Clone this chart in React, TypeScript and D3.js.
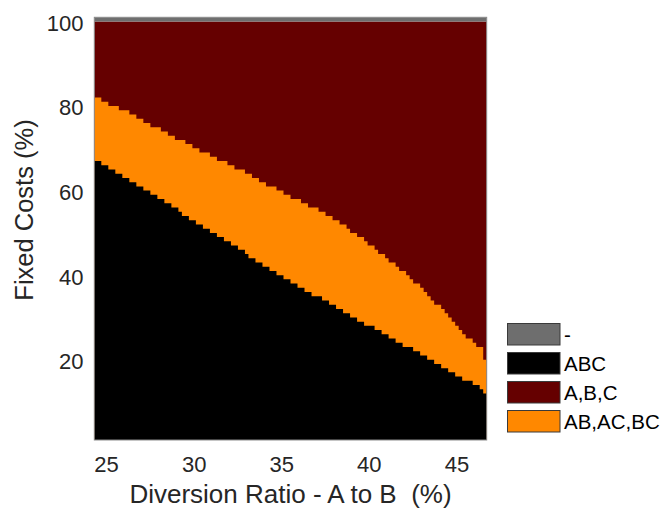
import React from "react";
import * as d3 from "d3";

// Column grid of the diversion ratio (%): left edges every 0.2 from 24.3 to 46.7
const xStart = 24.3;
const xEnd = 46.7;
const xStep = 0.2;

// Highest fixed-cost row (%) that is "ABC" in each column
const abcTop = [
  66, 66, 65, 65, 64, 64, 63, 63, 62, 62,
  61, 61, 60, 60, 59, 59, 58, 58, 57, 57,
  56, 56, 55, 55, 54, 53, 53, 52, 52, 51,
  51, 50, 50, 49, 49, 48, 48, 47, 47, 46,
  46, 45, 45, 44, 43, 43, 42, 42, 41, 41,
  40, 40, 39, 39, 38, 38, 37, 37, 36, 36,
  35, 35, 34, 34, 34, 33, 33, 32, 32, 31,
  31, 30, 30, 29, 29, 28, 28, 27, 27, 27,
  26, 26, 25, 25, 24, 24, 23, 23, 22, 22,
  22, 21, 21, 20, 20, 19, 19, 18, 18, 17,
  17, 16, 16, 15, 15, 14, 14, 14, 13, 13,
  12, 11,
];

// Highest fixed-cost row (%) that is "AB,AC,BC" in each column
const pairTop = [
  81, 81, 80, 80, 79, 79, 79, 78, 78, 78,
  77, 77, 76, 76, 75, 75, 74, 74, 74, 73,
  73, 72, 72, 71, 71, 71, 70, 70, 69, 69,
  68, 68, 68, 67, 67, 66, 66, 66, 65, 65,
  64, 64, 64, 63, 63, 62, 62, 61, 61, 60,
  60, 60, 59, 59, 58, 58, 57, 57, 57, 56,
  56, 55, 55, 55, 54, 54, 53, 53, 52, 52,
  51, 51, 50, 49, 49, 48, 48, 47, 46, 46,
  45, 44, 44, 43, 42, 42, 41, 40, 40, 39,
  38, 37, 37, 36, 35, 34, 33, 32, 32, 31,
  30, 29, 28, 27, 26, 25, 24, 24, 23, 22,
  22, 19,
];

// Rows: 1..99 below the "-" row, row 100 is "-"
const rowMin = 1;
const rowMax = 100;

const xTicks = [25, 30, 35, 40, 45];
const yTicks = [20, 40, 60, 80, 100];

const legendLabels = ["-", "ABC", "A,B,C", "AB,AC,BC"];
const legendColors = ["#6e6e6e", "#000000", "#650000", "#ff8800"];

const xTitle = "Diversion Ratio - A to B\u00A0\u00A0(%)";
const yTitle = "Fixed Costs (%)";

const FONT = "'Liberation Sans', Arial, Helvetica, sans-serif";

export default function App() {
  const W = 663;
  const H = 509;
  const left = 94.3;
  const right = 486.7;
  const top = 17.3;
  const bottom = 440;

  const x = d3.scaleLinear().domain([xStart, xEnd]).range([left, right]);
  const y = d3.scaleLinear().domain([rowMin - 0.5, rowMax + 0.5]).range([bottom, top]);

  const n = abcTop.length;
  const pts = d3.range(n + 1).map((i) => {
    const k = Math.min(i, n - 1);
    return { x0: xStart + i * xStep, a: abcTop[k], p: pairTop[k] };
  });

  const areaBlack = d3
    .area<{ x0: number; a: number; p: number }>()
    .x((d) => x(d.x0))
    .y0(() => y(rowMin - 0.5))
    .y1((d) => y(d.a + 0.5))
    .curve(d3.curveStepAfter);

  const areaOrange = d3
    .area<{ x0: number; a: number; p: number }>()
    .x((d) => x(d.x0))
    .y0(() => y(rowMin - 0.5))
    .y1((d) => y(d.p + 0.5))
    .curve(d3.curveStepAfter);

  const legendX = 507.5;
  const legendY0 = 323.5;
  const legendStep = 29;
  const swW = 52.5;
  const swH = 21.5;

  return (
    <svg width={W} height={H} style={{ position: "absolute", left: 0, top: 0, background: "#fff" }} fontFamily={FONT}>
      <rect x={0} y={0} width={W} height={H} fill="#fff" />
      {/* A,B,C background */}
      <rect x={x(xStart)} y={y(rowMax - 0.5)} width={x(xEnd) - x(xStart)} height={y(rowMin - 0.5) - y(rowMax - 0.5)} fill={legendColors[2]} />
      {/* "-" row */}
      <rect x={x(xStart)} y={y(rowMax + 0.5)} width={x(xEnd) - x(xStart)} height={y(rowMax - 0.5) - y(rowMax + 0.5)} fill={legendColors[0]} />
      <path d={areaOrange(pts) || ""} fill={legendColors[3]} />
      <path d={areaBlack(pts) || ""} fill={legendColors[1]} />
      {/* frame */}
      <rect x={left} y={top} width={right - left} height={bottom - top} fill="none" stroke="#8c8c8c" strokeWidth={1} />

      {xTicks.map((t) => (
        <text key={"x" + t} x={x(t)} y={472} textAnchor="middle" fontSize={22} fill="#262626">
          {t}
        </text>
      ))}
      {yTicks.map((t) => (
        <text key={"y" + t} x={83.5} y={y(t) + 11.5} textAnchor="end" fontSize={22} fill="#262626">
          {t}
        </text>
      ))}
      <text x={290.5} y={503} textAnchor="middle" fontSize={26} fill="#262626">
        {xTitle}
      </text>
      <text transform={`translate(33,210) rotate(-90)`} textAnchor="middle" fontSize={25.5} fill="#262626">
        {yTitle}
      </text>

      {legendLabels.map((lab, i) => (
        <g key={lab} transform={`translate(${legendX},${legendY0 + i * legendStep})`}>
          <rect x={0} y={0} width={swW} height={swH} fill={legendColors[i]} stroke="#3a3a3a" strokeWidth={1} />
          <text x={swW + 4} y={swH / 2 + 7.3} fontSize={20.5} fill="#000">
            {lab}
          </text>
        </g>
      ))}
    </svg>
  );
}
